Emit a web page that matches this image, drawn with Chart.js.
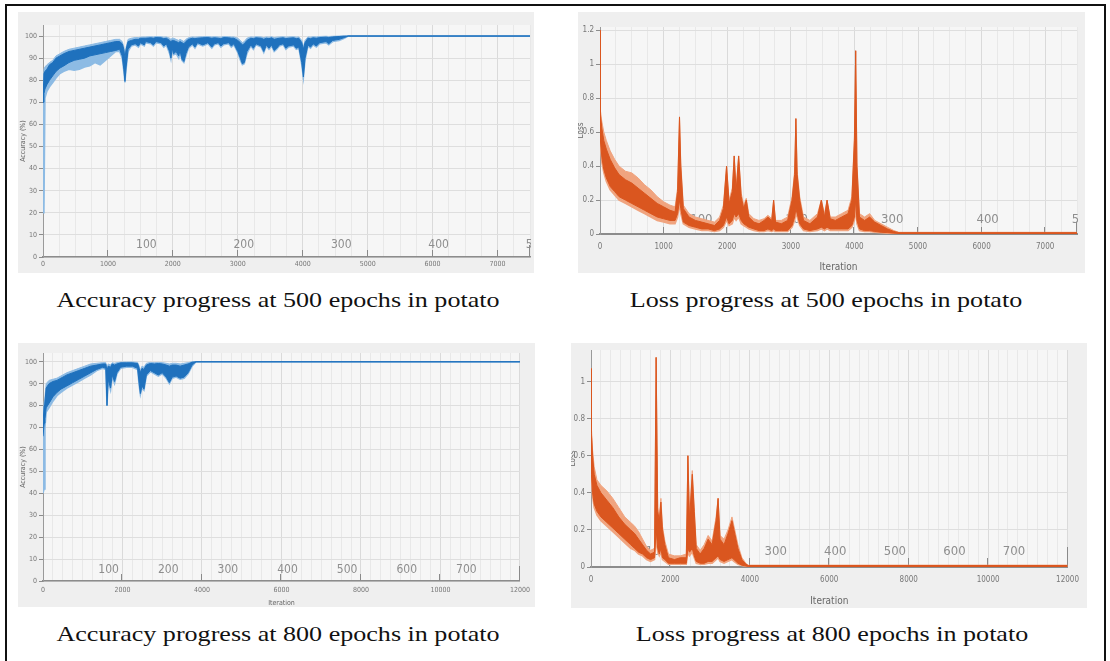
<!DOCTYPE html>
<html>
<head>
<meta charset="utf-8">
<script src="https://cdn.jsdelivr.net/npm/chart.js@4.4.1/dist/chart.umd.min.js"></script>
<style>
  html, body { margin: 0; padding: 0; background: #fff; }
  #page { position: relative; width: 1110px; height: 661px; overflow: hidden; background: #fff; }
  .frame { position: absolute; left: 5px; top: 4px; width: 1101px; height: 720px; border: 2px solid #111; box-sizing: border-box; }
  .panel { position: absolute; background: #efefef; }
  .panel canvas { position: absolute; left: 0; top: 0; }
  .cap { position: absolute; font-family: 'Liberation Serif', 'Times New Roman', serif; font-size: 22px; line-height: 22px;
         color: #111; white-space: nowrap; transform: translateX(-50%) scaleX(1.185); transform-origin: 50% 50%; }
</style>
</head>
<body>
<div id="page">
  <div class="frame"></div>
  <div class="panel" style="left:18px;top:12px;width:516px;height:261px"><canvas id="c1" width="516" height="261"></canvas></div>
  <div class="panel" style="left:578px;top:12px;width:507px;height:261px"><canvas id="c2" width="507" height="261"></canvas></div>
  <div class="panel" style="left:18px;top:343px;width:517px;height:264px"><canvas id="c3" width="517" height="264"></canvas></div>
  <div class="panel" style="left:571px;top:343px;width:516px;height:265px"><canvas id="c4" width="516" height="265"></canvas></div>
  <div class="cap" style="left:278px;top:289px">Accuracy progress at 500 epochs in potato</div>
  <div class="cap" style="left:826px;top:289px">Loss progress at 500 epochs in potato</div>
  <div class="cap" style="left:278px;top:623px">Accuracy progress at 800 epochs in potato</div>
  <div class="cap" style="left:832px;top:623px">Loss progress at 800 epochs in potato</div>
</div>
<script>
// ---------- training accuracy, 500 epochs (15 iterations per epoch) ----------
const acc500Iter    = [0, 15, 30, 60, 100, 150, 200, 260, 320, 400, 480, 560, 640, 720, 800, 880, 960, 1040, 1120, 1180, 1220, 1245, 1262, 1280,
                       1310, 1360, 1420, 1470, 1500, 1560, 1580, 1660, 1700, 1740, 1820, 1860, 1900, 1950, 1970, 1990, 2010, 2050, 2090, 2110,
                       2140, 2170, 2200, 2240, 2300, 2340, 2380, 2460, 2540, 2600, 2640, 2700, 2740, 2780, 2860, 2900, 2940, 3000, 3040, 3070,
                       3100, 3140, 3200, 3240, 3280, 3360, 3400, 3440, 3480, 3520, 3560, 3600, 3640, 3700, 3740, 3780, 3860, 3900, 3940, 3985,
                       4010, 4035, 4080, 4120, 4160, 4210, 4260, 4360, 4400, 4460, 4560, 4640, 4700, 5000, 7500];
const acc500DarkHi  = [78, 83, 84, 85, 87, 88, 90, 91, 92, 93, 93.5, 94, 94.5, 95, 95.5, 96, 96.5, 97, 97.5, 97.5, 96.5, 94, 90, 94,
                       97.5, 98, 98.5, 98.5, 99, 99, 99, 99.2, 99, 99.3, 99.2, 98.8, 99, 98, 97.5, 98, 98, 97.5, 97, 97.5,
                       97, 96.5, 97.5, 98.5, 99, 98.8, 99, 99.2, 99.3, 99, 99.2, 99, 98.8, 99.3, 99.2, 99, 99, 98, 97, 96,
                       96.5, 98, 99, 98.8, 99.2, 99, 98.5, 99, 98.8, 99.2, 98.5, 98.8, 99, 99.2, 98.8, 99, 99.2, 98.8, 99, 97,
                       94, 97, 99, 98.8, 99.2, 99, 99.3, 99.5, 99.3, 99.6, 99.8, 100, 100, 100, 100];
const acc500DarkLo  = [70, 74, 76, 78, 80, 82, 84, 85.5, 86.5, 88, 89, 89.5, 90, 91, 91.5, 92, 92.5, 93, 93.5, 94, 91, 85, 79.5, 86,
                       94, 96, 96.5, 95.5, 97, 96, 97.5, 97, 96, 97.5, 97, 95.5, 96.5, 93, 90, 94.5, 92, 93, 91, 93.5,
                       89.5, 88.5, 92, 95, 96.5, 95, 97, 96, 97, 95, 96.5, 97, 95.5, 96.5, 97, 95.5, 96.5, 93, 90, 87.5,
                       88, 93, 96, 94.5, 96.5, 95.5, 93, 96, 94.5, 96, 93.5, 94.5, 96, 96.5, 94.5, 95.5, 96, 94.5, 95, 88,
                       81.5, 90, 96, 95, 96.5, 95.5, 97, 97.5, 96.5, 98, 98.5, 99.3, 100, 100, 100];
const acc500LightHi = [80, 85, 86, 87, 88, 89, 91, 92, 93, 94, 94.5, 95, 95.5, 96, 96.5, 97, 97.5, 98, 98.5, 98.5, 97.5, 95, 91, 95,
                       98.5, 99, 99.3, 99.3, 99.5, 99.6, 99.6, 99.7, 99.6, 99.8, 99.7, 99.5, 99.6, 99, 98.5, 99, 99, 98.5, 98, 98.5,
                       98, 97.5, 98.5, 99.2, 99.6, 99.5, 99.6, 99.7, 99.8, 99.6, 99.7, 99.6, 99.5, 99.8, 99.7, 99.6, 99.6, 99, 98, 97,
                       97.5, 99, 99.6, 99.5, 99.7, 99.6, 99.3, 99.6, 99.5, 99.7, 99.3, 99.5, 99.6, 99.7, 99.5, 99.6, 99.7, 99.5, 99.6, 98,
                       95, 98, 99.6, 99.5, 99.7, 99.6, 99.8, 99.9, 99.8, 99.9, 100, 100, 100, 100, 100];
const acc500LightLo = [20, 21, 72, 75, 77, 79, 81, 83, 84, 85, 84.5, 85, 86, 86.5, 88, 87, 89, 91, 93, 93, 90, 84, 79, 85,
                       93, 95.5, 96, 95, 96.5, 95.5, 97, 96.5, 95.5, 97, 96.5, 95, 96, 92, 89.5, 94, 91.5, 92, 90, 93,
                       89, 88, 91, 94.5, 96, 94.5, 96.5, 95.5, 96.5, 94.5, 96, 96.5, 95, 96, 96.5, 95, 96, 92.5, 89, 87,
                       87.5, 92, 95.5, 94, 96, 95, 92.5, 95.5, 94, 95.5, 93, 94, 95.5, 96, 94, 95, 95.5, 94, 94.5, 87,
                       81, 89, 95.5, 94.5, 96, 95, 96.5, 97, 96, 97.5, 98, 99, 100, 100, 100];

// ---------- training loss, 500 epochs ----------
const loss500Iter    = [0, 3, 10, 30, 60, 100, 160, 230, 300, 400, 500, 600, 700, 800, 900, 1000, 1100, 1180, 1220, 1250, 1270, 1310, 1400, 1500, 1600, 1700, 1800, 1880, 1940, 1990, 2030, 2080, 2110, 2140, 2180, 2220, 2260, 2300, 2340, 2420, 2500, 2580, 2640, 2700, 2730, 2760, 2850, 2950, 3020, 3060, 3080, 3100, 3140, 3200, 3300, 3420, 3480, 3530, 3570, 3620, 3700, 3800, 3900, 3960, 4000, 4020, 4040, 4080, 4160, 4240, 4320, 4420, 4520, 4620, 4700, 7500];
const loss500DarkHi  = [1.2, 0.85, 0.7, 0.62, 0.55, 0.5, 0.44, 0.39, 0.35, 0.32, 0.3, 0.27, 0.24, 0.21, 0.18, 0.16, 0.14, 0.13, 0.25, 0.69, 0.4, 0.15, 0.1, 0.08, 0.07, 0.06, 0.05, 0.08, 0.15, 0.4, 0.18, 0.25, 0.46, 0.25, 0.46, 0.22, 0.15, 0.2, 0.1, 0.07, 0.06, 0.08, 0.1, 0.08, 0.2, 0.07, 0.06, 0.08, 0.2, 0.35, 0.68, 0.35, 0.2, 0.08, 0.06, 0.1, 0.2, 0.1, 0.2, 0.09, 0.08, 0.1, 0.12, 0.2, 0.55, 1.08, 0.4, 0.1, 0.08, 0.1, 0.07, 0.05, 0.03, 0.015, 0.008, 0.008];
const loss500DarkLo  = [0.75, 0.62, 0.55, 0.45, 0.38, 0.33, 0.28, 0.25, 0.22, 0.2, 0.18, 0.16, 0.14, 0.12, 0.1, 0.09, 0.08, 0.08, 0.12, 0.2, 0.15, 0.07, 0.05, 0.04, 0.03, 0.03, 0.02, 0.03, 0.05, 0.1, 0.06, 0.08, 0.12, 0.1, 0.12, 0.08, 0.06, 0.05, 0.04, 0.03, 0.02, 0.02, 0.03, 0.02, 0.03, 0.02, 0.02, 0.02, 0.05, 0.1, 0.15, 0.12, 0.06, 0.03, 0.02, 0.03, 0.04, 0.03, 0.04, 0.03, 0.03, 0.03, 0.03, 0.05, 0.1, 0.2, 0.08, 0.03, 0.02, 0.02, 0.015, 0.01, 0.008, 0.005, 0.003, 0.003];
const loss500LightHi = [1.2, 0.9, 0.72, 0.66, 0.6, 0.55, 0.49, 0.44, 0.4, 0.37, 0.36, 0.33, 0.29, 0.26, 0.22, 0.19, 0.17, 0.16, 0.27, 0.69, 0.42, 0.17, 0.12, 0.1, 0.09, 0.08, 0.07, 0.1, 0.17, 0.4, 0.2, 0.27, 0.46, 0.27, 0.46, 0.24, 0.17, 0.21, 0.12, 0.09, 0.08, 0.09, 0.11, 0.09, 0.2, 0.08, 0.08, 0.1, 0.22, 0.37, 0.68, 0.37, 0.22, 0.1, 0.08, 0.12, 0.2, 0.12, 0.2, 0.1, 0.1, 0.12, 0.14, 0.22, 0.57, 1.08, 0.42, 0.12, 0.1, 0.12, 0.08, 0.06, 0.04, 0.02, 0.01, 0.01];
const loss500LightLo = [0.72, 0.6, 0.52, 0.42, 0.36, 0.31, 0.26, 0.23, 0.2, 0.18, 0.16, 0.14, 0.12, 0.1, 0.08, 0.07, 0.06, 0.06, 0.1, 0.18, 0.12, 0.06, 0.04, 0.03, 0.02, 0.02, 0.015, 0.02, 0.04, 0.08, 0.05, 0.06, 0.1, 0.08, 0.1, 0.06, 0.05, 0.04, 0.03, 0.02, 0.015, 0.015, 0.02, 0.015, 0.02, 0.015, 0.015, 0.015, 0.04, 0.08, 0.12, 0.1, 0.05, 0.02, 0.015, 0.02, 0.03, 0.02, 0.03, 0.02, 0.02, 0.02, 0.02, 0.04, 0.08, 0.15, 0.06, 0.02, 0.015, 0.015, 0.01, 0.008, 0.005, 0.004, 0.002, 0.002];

// ---------- training accuracy, 800 epochs ----------
const acc800Iter    = [0, 30, 50, 80, 150, 250, 350, 450, 600, 750, 900, 1050, 1200, 1350, 1500, 1580, 1610, 1640, 1700, 1740, 1800, 1860, 1950, 2100, 2250, 2380, 2420, 2450, 2490, 2540, 2600, 2700, 2800, 2900, 3000, 3100, 3180, 3250, 3350, 3450, 3550, 3650, 3750, 3850, 12000];
const acc800DarkHi  = [72, 80, 82, 88, 90, 91, 91.5, 92.5, 94, 95, 96, 97, 98, 98.5, 99, 99, 96, 98, 97.5, 99, 98.5, 99, 99.5, 99.5, 99.5, 99.2, 97, 95, 97, 96.5, 98.5, 99.2, 99, 99.2, 99, 98.5, 98, 98.5, 98.5, 98, 98.5, 99, 99.8, 100, 100];
const acc800DarkLo  = [66, 72, 74, 79, 81, 84, 86, 87.5, 89, 90.5, 92, 93.5, 95, 96.5, 97.5, 97, 80, 92, 88, 94, 91, 95, 97.5, 98, 98, 97, 90, 85.5, 89, 87.5, 94, 96, 95, 94, 95, 93, 90.5, 93, 93.5, 92.5, 93, 95, 98.5, 100, 100];
const acc800LightHi = [74, 82, 84, 90, 91.5, 92, 92.5, 93.5, 95, 96, 97, 98, 99, 99.3, 99.6, 99.6, 97, 99, 98.5, 99.5, 99.3, 99.6, 99.8, 99.9, 99.9, 99.7, 98, 96, 98, 97.5, 99.3, 99.7, 99.6, 99.7, 99.6, 99.3, 99, 99.3, 99.3, 99, 99.3, 99.6, 100, 100, 100];
const acc800LightLo = [40, 42, 70, 77, 79, 82, 84.5, 86, 88, 89.5, 91, 92.5, 94, 96, 97, 96.5, 80, 91, 87, 93, 90, 94.5, 97, 97.5, 97.5, 96.5, 89, 85, 88, 87, 93.5, 95.5, 94.5, 93.5, 94.5, 92.5, 90, 92.5, 93, 92, 92.5, 94.5, 98, 100, 100];

// ---------- training loss, 800 epochs ----------
const loss800Iter    = [0, 5, 15, 40, 80, 150, 250, 400, 550, 700, 850, 1000, 1100, 1200, 1300, 1400, 1500, 1600, 1640, 1680, 1720, 1760, 1800, 1860, 1950, 2100, 2250, 2400, 2440, 2480, 2550, 2600, 2650, 2750, 2850, 2950, 3050, 3150, 3200, 3250, 3350, 3450, 3550, 3600, 3700, 3800, 3900, 3960, 12000];
const loss800DarkHi  = [1.07, 0.9, 0.72, 0.6, 0.5, 0.44, 0.4, 0.36, 0.32, 0.27, 0.23, 0.2, 0.18, 0.15, 0.12, 0.09, 0.07, 0.08, 1.13, 0.3, 0.25, 0.35, 0.2, 0.12, 0.05, 0.04, 0.05, 0.05, 0.6, 0.25, 0.5, 0.3, 0.1, 0.07, 0.1, 0.15, 0.12, 0.25, 0.37, 0.15, 0.12, 0.18, 0.25, 0.2, 0.1, 0.04, 0.015, 0.008, 0.008];
const loss800DarkLo  = [0.7, 0.6, 0.5, 0.4, 0.34, 0.3, 0.27, 0.24, 0.21, 0.18, 0.15, 0.12, 0.1, 0.08, 0.07, 0.05, 0.04, 0.05, 0.2, 0.1, 0.07, 0.1, 0.05, 0.04, 0.02, 0.02, 0.02, 0.02, 0.1, 0.08, 0.1, 0.06, 0.03, 0.02, 0.02, 0.03, 0.03, 0.05, 0.06, 0.04, 0.03, 0.04, 0.05, 0.04, 0.02, 0.01, 0.005, 0.003, 0.003];
const loss800LightHi = [1.07, 0.92, 0.75, 0.63, 0.54, 0.47, 0.44, 0.41, 0.37, 0.32, 0.27, 0.24, 0.22, 0.19, 0.15, 0.11, 0.09, 0.1, 1.13, 0.32, 0.27, 0.37, 0.22, 0.14, 0.07, 0.06, 0.06, 0.07, 0.6, 0.27, 0.52, 0.32, 0.12, 0.09, 0.12, 0.17, 0.14, 0.27, 0.37, 0.17, 0.15, 0.2, 0.27, 0.22, 0.12, 0.05, 0.02, 0.01, 0.01];
const loss800LightLo = [0.68, 0.58, 0.48, 0.38, 0.32, 0.28, 0.25, 0.22, 0.19, 0.16, 0.13, 0.1, 0.09, 0.07, 0.06, 0.04, 0.03, 0.04, 0.15, 0.08, 0.06, 0.08, 0.04, 0.03, 0.015, 0.015, 0.015, 0.015, 0.08, 0.06, 0.08, 0.05, 0.02, 0.015, 0.015, 0.02, 0.02, 0.04, 0.05, 0.03, 0.02, 0.03, 0.04, 0.03, 0.015, 0.008, 0.004, 0.002, 0.002];

// epoch numbers written along the iteration axis
const epochs500 = [100, 200, 300, 400, 500];
const epochs800 = [100, 200, 300, 400, 500, 600, 700];
const itersPerEpoch = 15;

const NARROW = "'Liberation Sans Narrow','DejaVu Sans Condensed','Arial Narrow',sans-serif";
const ACC_DARK = '#1f71bd', ACC_LIGHT = '#8dbbe4';
const LOSS_DARK = '#da561f', LOSS_LIGHT = '#f0a47f';

function pts(xs, ys) { return xs.map((x, i) => ({ x: x, y: ys[i] })); }

// plot-area shading, epoch numbers and inward iteration ticks
const panelDecor = {
  id: 'panelDecor',
  beforeDraw(chart, args, o) {
    const { ctx, chartArea: a } = chart;
    ctx.save();
    ctx.fillStyle = o.plotBg;
    ctx.fillRect(a.left, a.top, a.right - a.left, a.bottom - a.top);
    ctx.restore();
  },
  beforeDatasetsDraw(chart, args, o) {
    const { ctx, chartArea: a } = chart;
    const x = chart.scales.x;
    ctx.save();
    ctx.beginPath();
    ctx.rect(a.left, a.top, a.right - a.left + 1, a.bottom - a.top);
    ctx.clip();
    ctx.fillStyle = '#8e8e8e';
    ctx.font = o.epochFont + 'px ' + NARROW;
    ctx.textAlign = 'center';
    ctx.textBaseline = 'middle';
    o.epochs.forEach(e => {
      ctx.fillText(String(e), x.getPixelForValue(e * itersPerEpoch) + 6, a.bottom - o.epochRise);
    });
    ctx.strokeStyle = '#8a8a8a';
    ctx.lineWidth = 1;
    o.tickIters.forEach(v => {
      const px = Math.round(x.getPixelForValue(v)) - 0.5;
      const len = v === x.max ? o.endTick : o.tickLen;
      ctx.beginPath();
      ctx.moveTo(px, a.bottom);
      ctx.lineTo(px, a.bottom - len);
      ctx.stroke();
    });
    ctx.restore();
  }
};

function drawPanel(canvasId, c) {
  const datasets = [
    { data: pts(c.iter, c.darkHi), borderColor: c.dark, borderWidth: 1, fill: false },
    { data: pts(c.iter, c.darkLo), borderColor: c.dark, borderWidth: 1, backgroundColor: c.dark, fill: 0 },
    { data: pts(c.iter, c.lightHi), borderColor: c.light, borderWidth: 1, fill: false },
    { data: pts(c.iter, c.lightLo), borderColor: c.light, borderWidth: 1.5, backgroundColor: c.light, fill: 2 }
  ];
  return new Chart(document.getElementById(canvasId), {
    type: 'line',
    data: { datasets: datasets },
    options: {
      responsive: false,
      animation: false,
      devicePixelRatio: 1,
      layout: { padding: c.padding },
      elements: { point: { radius: 0 }, line: { tension: 0 } },
      plugins: {
        legend: { display: false },
        tooltip: { enabled: false },
        panelDecor: c.decor
      },
      scales: {
        x: {
          type: 'linear', min: 0, max: c.xMax,
          afterFit(s) { s.height = c.xH; },
          ticks: {
            stepSize: c.minor, autoSkip: false, maxRotation: 0, padding: c.xPad,
            color: '#777', font: { family: NARROW, size: c.tickFont },
            callback: v => (v % c.major === 0 ? String(v) : '')
          },
          grid: {
            drawTicks: false,
            color: ctx => (ctx.tick && ctx.tick.value % c.major === 0 ? '#dadada' : '#e8e8e8'),
            lineWidth: 1
          },
          border: { color: '#8c8c8c', width: c.axisW },
          title: c.xTitle ? { display: true, text: c.xTitle, color: '#666', font: { family: NARROW, size: c.xTitleFont }, padding: { top: 0, bottom: c.xTitlePad } } : { display: false }
        },
        y: {
          min: 0, max: c.yMax,
          afterFit(s) { s.width = c.yW; },
          ticks: {
            stepSize: c.yStep, includeBounds: false, padding: 2,
            color: '#777', font: { family: NARROW, size: c.tickFont },
            callback: v => String(+v.toFixed(2))
          },
          grid: { color: '#dedede', drawTicks: true, tickLength: 4, tickColor: '#8c8c8c' },
          border: { color: '#9a9a9a', width: 1 },
          title: { display: true, text: c.yTitle, color: '#666', font: { family: NARROW, size: c.yTitleFont }, padding: { top: c.yTitlePad, bottom: 0 } }
        }
      }
    },
    plugins: [panelDecor]
  });
}

drawPanel('c1', {
  iter: acc500Iter, darkHi: acc500DarkHi, darkLo: acc500DarkLo, lightHi: acc500LightHi, lightLo: acc500LightLo,
  dark: ACC_DARK, light: ACC_LIGHT,
  padding: { left: 0, right: 4, top: 13, bottom: 0 }, yW: 25, xH: 16,
  xMax: 7500, minor: 250, major: 1000, xPad: 3, axisW: 1.5,
  yMax: 105, yStep: 10, yTitle: 'Accuracy (%)', yTitlePad: 1,
  tickFont: 7, yTitleFont: 7,
  decor: { plotBg: '#f6f6f6', epochs: epochs500, epochRise: 12, epochFont: 12,
           tickIters: [1000, 2000, 3000, 4000, 5000, 6000, 7000, 7500], tickLen: 7, endTick: 12 }
});

drawPanel('c2', {
  iter: loss500Iter, darkHi: loss500DarkHi, darkLo: loss500DarkLo, lightHi: loss500LightHi, lightLo: loss500LightLo,
  dark: LOSS_DARK, light: LOSS_LIGHT,
  padding: { left: 0, right: 3, top: 15, bottom: 0 }, yW: 22, xH: 39,
  xMax: 7500, minor: 250, major: 1000, xPad: 8, axisW: 2,
  yMax: 1.22, yStep: 0.2, yTitle: 'Loss', yTitlePad: -2, yTitleFont: 8,
  tickFont: 8, xTitle: 'Iteration', xTitlePad: 0, xTitleFont: 10,
  decor: { plotBg: '#f6f6f6', epochs: epochs500, epochRise: 14, epochFont: 13,
           tickIters: [1000, 2000, 3000, 4000, 5000, 6000, 7000, 7500], tickLen: 7, endTick: 12 }
});

drawPanel('c3', {
  iter: acc800Iter, darkHi: acc800DarkHi, darkLo: acc800DarkLo, lightHi: acc800LightHi, lightLo: acc800LightLo,
  dark: ACC_DARK, light: ACC_LIGHT,
  padding: { left: 0, right: 11, top: 10, bottom: 0 }, yW: 25, xH: 26,
  xMax: 12000, minor: 250, major: 2000, xPad: 5, axisW: 1.5,
  yMax: 104, yStep: 10, yTitle: 'Accuracy (%)', yTitlePad: 1, yTitleFont: 7,
  tickFont: 7, xTitle: 'Iteration', xTitlePad: 0, xTitleFont: 7,
  decor: { plotBg: '#f6f6f6', epochs: epochs800, epochRise: 11, epochFont: 12,
           tickIters: [2000, 4000, 6000, 8000, 10000, 12000], tickLen: 7, endTick: 15 }
});

drawPanel('c4', {
  iter: loss800Iter, darkHi: loss800DarkHi, darkLo: loss800DarkLo, lightHi: loss800LightHi, lightLo: loss800LightLo,
  dark: LOSS_DARK, light: LOSS_LIGHT,
  padding: { left: 0, right: 11, top: 7, bottom: 0 }, yW: 20, xH: 41,
  xMax: 12000, minor: 250, major: 2000, xPad: 8, axisW: 2,
  yMax: 1.17, yStep: 0.2, yTitle: 'Loss', yTitlePad: -2.5, yTitleFont: 8,
  tickFont: 8, xTitle: 'Iteration', xTitlePad: 1, xTitleFont: 10,
  decor: { plotBg: '#f6f6f6', epochs: epochs800, epochRise: 15, epochFont: 13,
           tickIters: [2000, 4000, 6000, 8000, 10000, 12000], tickLen: 9, endTick: 20 }
});
</script>
</body>
</html>
